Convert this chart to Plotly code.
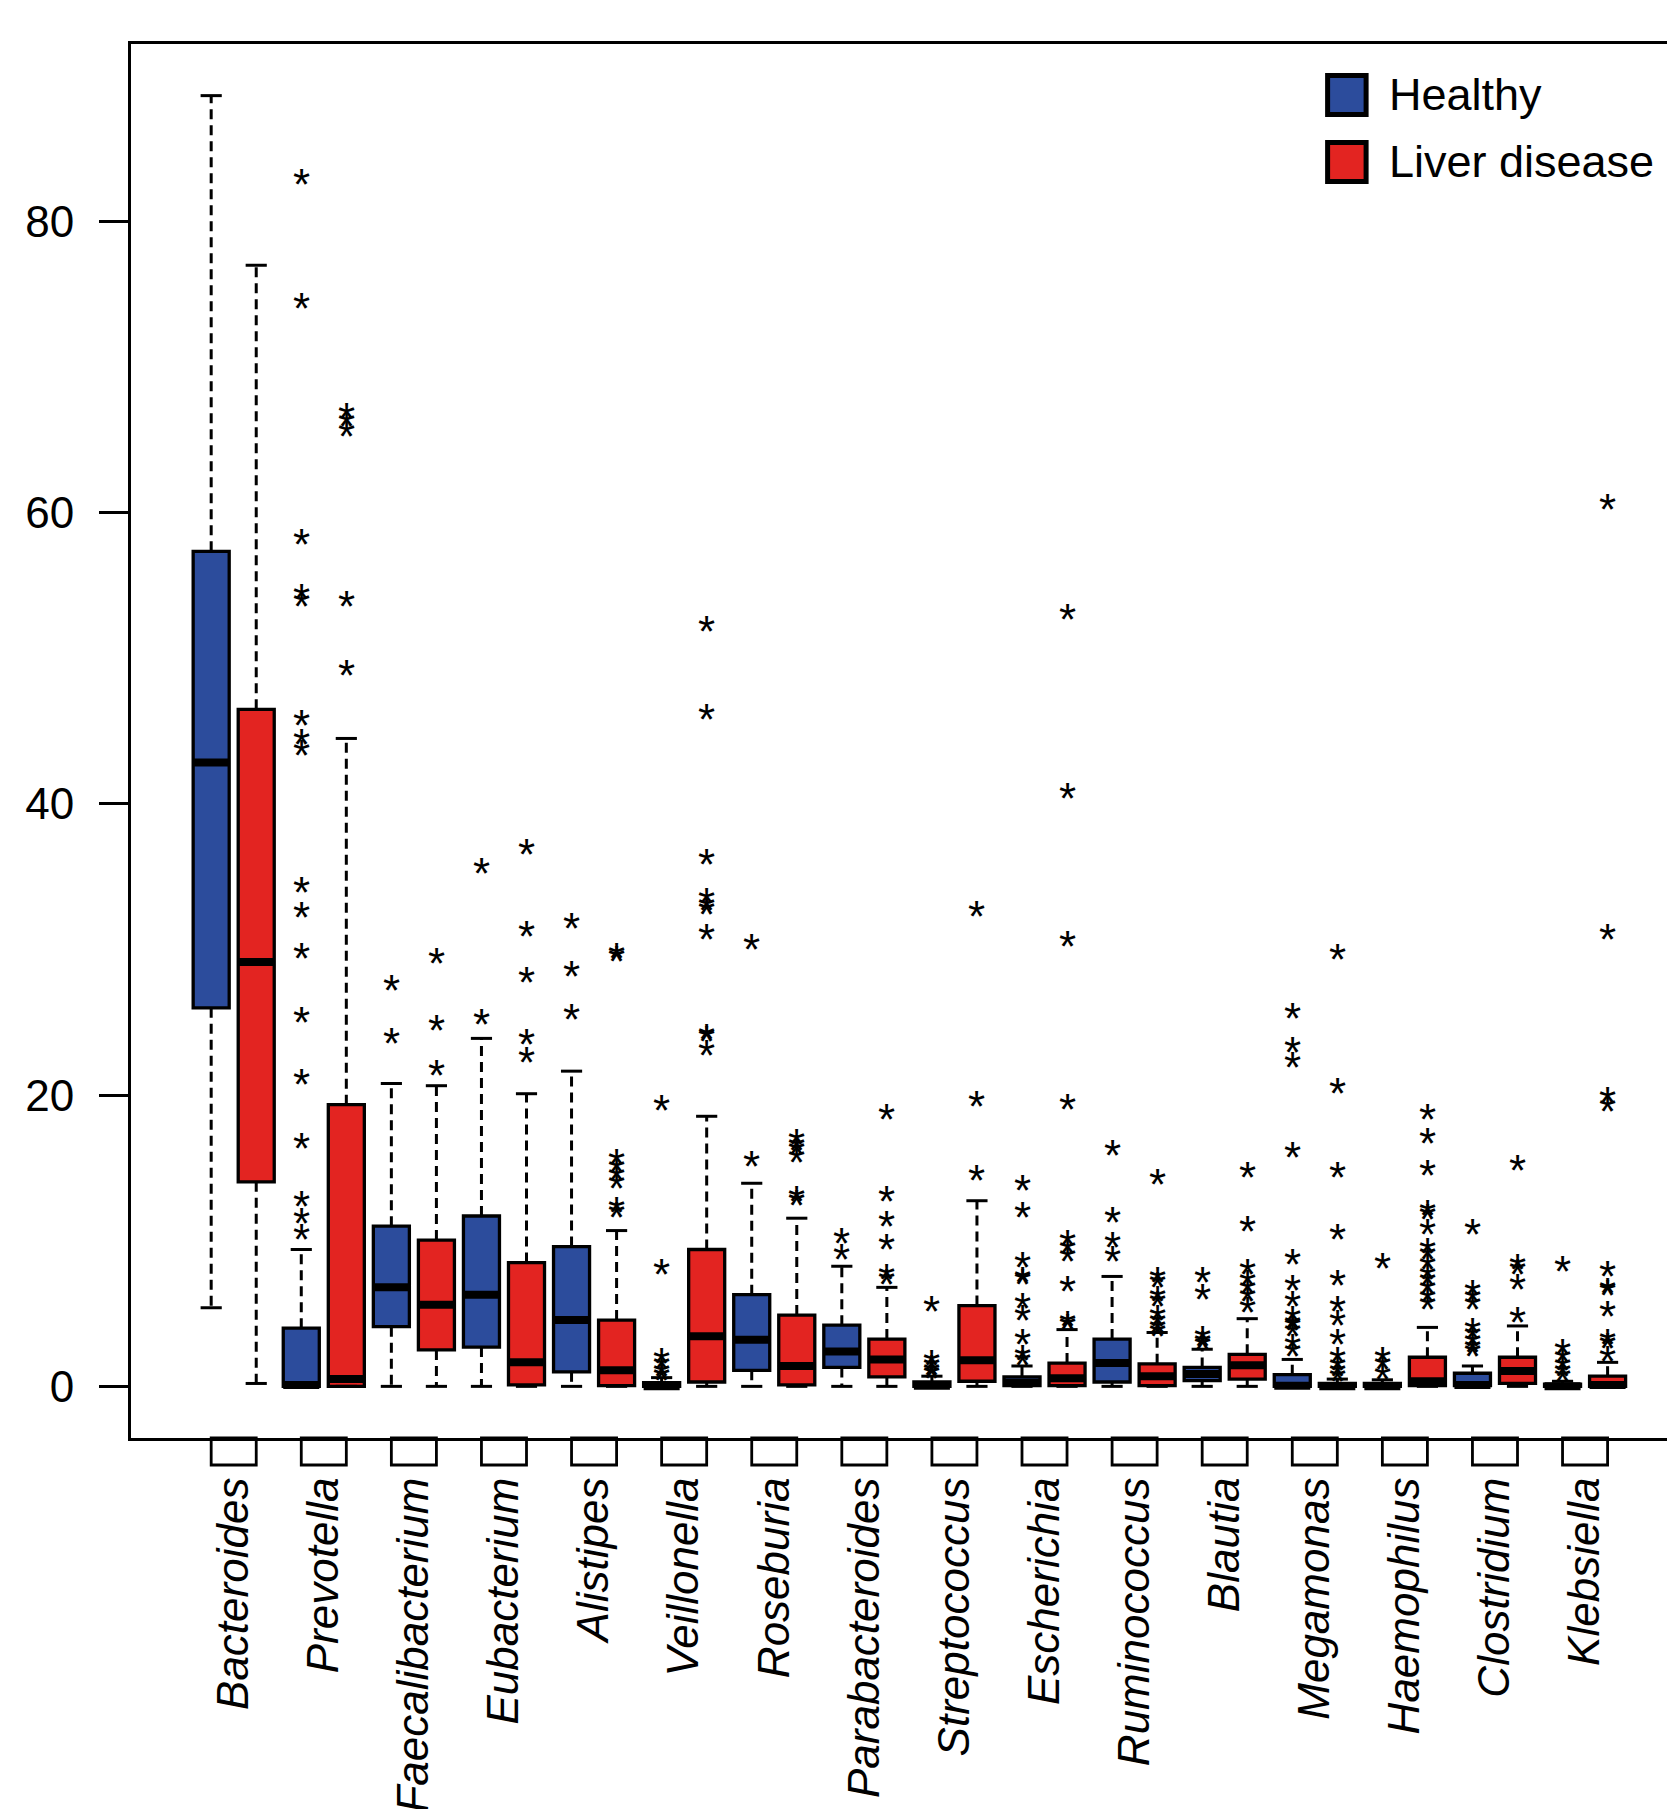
import plotly.graph_objects as go

# ---------------- data ----------------
genera = ["Bacteroides", "Prevotella", "Faecalibacterium", "Eubacterium", "Alistipes",
          "Veillonella", "Roseburia", "Parabacteroides", "Streptococcus", "Escherichia",
          "Ruminococcus", "Blautia", "Megamonas", "Haemophilus", "Clostridium", "Klebsiella"]

# Healthy: lower whisker, Q1, median, Q3, upper whisker
h_low = [5.4, 0, 0, 0, 0, 0, 0, 0, 0, 0, 0, 0, 0, 0, 0, 0]
h_q1 = [26.0, 0, 4.1, 2.7, 1.0, 0, 1.1, 1.3, 0, 0.05, 0.3, 0.4, 0, 0, 0.05, 0]
h_med = [42.85, 0.1, 6.8, 6.3, 4.55, 0, 3.2, 2.4, 0.05, 0.25, 1.6, 0.85, 0.05, 0, 0.1, 0]
h_q3 = [57.35, 4.0, 11.0, 11.7, 9.6, 0.25, 6.3, 4.2, 0.3, 0.65, 3.25, 1.3, 0.8, 0.2, 0.9, 0.15]
h_up = [88.65, 9.4, 20.8, 23.9, 21.65, 0.6, 13.95, 8.25, 0.7, 1.4, 7.55, 2.55, 1.85, 0.45, 1.4, 0.35]
h_out = [
    [],
    [82.95, 74.45, 58.2, 54.45, 53.95, 45.8, 44.5, 43.7, 34.3, 32.6, 29.75, 25.4, 21.1, 16.7, 12.75, 11.6, 10.45],
    [27.55, 23.95],
    [35.65, 25.25],
    [31.85, 28.55, 25.6],
    [19.35, 8.05, 1.95, 1.55, 1.1, 0.8],
    [30.4, 15.5],
    [10.2, 9.1],
    [5.55, 1.85, 1.5, 1.15, 0.9],
    [13.85, 12.0, 8.55, 7.5, 7.4, 5.75, 4.9, 3.25, 2.2, 1.85],
    [16.25, 11.65, 9.9, 8.95],
    [7.5, 6.35, 3.45, 3.1, 2.9],
    [25.65, 23.35, 22.3, 16.1, 8.75, 6.95, 5.9, 4.85, 4.4, 4.2, 3.8, 2.9, 2.45],
    [8.5, 2.0, 1.55, 0.85],
    [10.85, 6.6, 6.15, 5.7, 4.05, 3.6, 3.15, 2.75, 2.45],
    [8.3, 2.55, 2.0, 1.5, 1.1, 0.75],
]

# Liver disease
l_low = [0.2, 0, 0, 0, 0, 0, 0, 0, 0, 0, 0, 0, 0, 0, 0, 0]
l_q1 = [14.05, 0, 2.5, 0.1, 0.05, 0.3, 0.1, 0.65, 0.35, 0.05, 0.05, 0.5, 0, 0.05, 0.2, 0]
l_med = [29.15, 0.5, 5.6, 1.65, 1.1, 3.45, 1.4, 1.85, 1.8, 0.55, 0.7, 1.45, 0, 0.35, 1.05, 0.1]
l_q3 = [46.5, 19.35, 10.05, 8.5, 4.55, 9.4, 4.9, 3.25, 5.55, 1.6, 1.55, 2.2, 0.2, 2.0, 2.0, 0.7]
l_up = [77.0, 44.5, 20.65, 20.1, 10.7, 18.55, 11.55, 6.8, 12.75, 3.9, 3.7, 4.65, 0.5, 4.05, 4.15, 1.65]
l_out = [
    [],
    [66.9, 66.3, 65.6, 53.95, 49.2],
    [29.45, 24.85, 21.75],
    [36.95, 31.3, 28.15, 23.85, 22.65],
    [29.75, 29.6, 15.65, 15.05, 14.55, 14.0, 12.35, 12.0],
    [52.25, 46.2, 36.25, 33.55, 33.1, 32.8, 31.1, 24.25, 24.05, 23.1],
    [17.0, 16.6, 16.35, 15.75, 13.1, 12.8],
    [18.75, 13.1, 11.35, 9.8, 7.7, 7.4],
    [32.65, 19.6, 14.5],
    [53.05, 40.8, 30.6, 19.4, 10.1, 9.5, 8.95, 6.9, 4.5, 4.3],
    [14.25, 7.5, 7.15, 6.2, 5.9, 4.9, 4.5, 4.1, 3.85],
    [14.75, 11.05, 8.05, 7.35, 6.8, 6.2, 5.45],
    [29.7, 20.5, 14.75, 10.5, 7.35, 5.55, 4.6, 3.25, 2.0, 1.5, 1.1, 0.75],
    [18.75, 17.05, 14.85, 12.1, 11.85, 10.8, 9.55, 9.1, 8.45, 7.75, 7.3, 6.8, 6.15, 5.7],
    [15.2, 8.45, 8.1, 7.05, 4.75],
    [60.6, 31.1, 19.9, 19.3, 7.95, 6.8, 6.6, 5.2, 3.25, 3.0, 2.1],
]

y_ticks = [0, 20, 40, 60, 80]
group_names = ["Healthy", "Liver disease"]

# ---------------- style ----------------
BLUE = "#2C4C9C"
RED = "#E32421"
FONT = "Liberation Sans, Arial, Helvetica, sans-serif"
BOXW = 0.8
CAPW = 0.47
STAR_SIZE = 44
STAR_SHIFT = -0.13 * STAR_SIZE   # centre the '*' glyph on its value

OFF = 8  # page body margin
W, H = 1675 - OFF, 1809 - OFF
PLOT_L, PLOT_T, PLOT_B = 130.5, 44, 1438.5   # page pixel positions of the frame
ML = PLOT_L - OFF
MT = PLOT_T - OFF
MB = H - (PLOT_B - OFF)
PW = W - ML
PH = H - MT - MB
PX_PER_UNIT = 45.06
x_min = -0.78
x_max = x_min + PW / PX_PER_UNIT

h_pos = [2 * i + 1 for i in range(len(genera))]
l_pos = [2 * i + 2 for i in range(len(genera))]

fig = go.Figure()
annotations = []


def add_group(pos, low, q1, med, q3, up, out, color):
    wx, wy, cx, cy, mx, my = [], [], [], [], [], []
    for p, lo, a, m, b, hi, o in zip(pos, low, q1, med, q3, up, out):
        if hi > b:
            wx += [p, p, None]
            wy += [b, hi, None]
        if lo < a:
            wx += [p, p, None]
            wy += [a, lo, None]
        cx += [p - CAPW / 2, p + CAPW / 2, None, p - CAPW / 2, p + CAPW / 2, None]
        cy += [hi, hi, None, lo, lo, None]
        mx += [p - BOXW / 2, p + BOXW / 2, None]
        my += [m, m, None]
        for v in o:
            annotations.append(dict(x=p, y=v, xref="x", yref="y", text="*",
                                    showarrow=False, xanchor="center", yanchor="middle",
                                    yshift=STAR_SHIFT,
                                    font=dict(family=FONT, size=STAR_SIZE, color="black")))
    fig.add_trace(go.Scatter(x=wx, y=wy, mode="lines", showlegend=False, hoverinfo="skip",
                             line=dict(color="black", width=3, dash="10px,6px")))
    fig.add_trace(go.Scatter(x=cx, y=cy, mode="lines", showlegend=False, hoverinfo="skip",
                             line=dict(color="black", width=3)))
    fig.add_trace(go.Box(x=pos, q1=q1, median=med, q3=q3, lowerfence=q1, upperfence=q3,
                         orientation="v", width=BOXW, fillcolor=color, boxpoints=False,
                         whiskerwidth=0, line=dict(color="black", width=3.3),
                         showlegend=False, hoverinfo="skip"))
    fig.add_trace(go.Scatter(x=mx, y=my, mode="lines", showlegend=False, hoverinfo="skip",
                             line=dict(color="black", width=8)))


add_group(h_pos, h_low, h_q1, h_med, h_q3, h_up, h_out, BLUE)
add_group(l_pos, l_low, l_q1, l_med, l_q3, l_up, l_out, RED)

shapes = []
for a, b in zip(h_pos, l_pos):
    shapes.append(dict(type="rect", xref="x", yref="paper", x0=a, x1=b,
                       y0=-27 / PH, y1=0, line=dict(color="black", width=2.8),
                       fillcolor="rgba(0,0,0,0)", layer="above"))


def px_x(px):  # page pixel -> paper
    return (px - OFF - ML) / PW


def px_y(py):
    return (MT + PH - (py - OFF)) / PH


for (y0, y1, ytxt), col, name in zip([(75.5, 114.5, 95), (142.5, 181.5, 161.5)],
                                     [BLUE, RED], group_names):
    shapes.append(dict(type="rect", xref="paper", yref="paper",
                       x0=px_x(1327.5), x1=px_x(1366), y0=px_y(y1), y1=px_y(y0),
                       fillcolor=col, line=dict(color="black", width=5), layer="above"))
    annotations.append(dict(xref="paper", yref="paper", x=px_x(1387), y=px_y(ytxt),
                            xanchor="left", yanchor="middle", showarrow=False, text=name,
                            font=dict(family=FONT, size=45, color="black")))

fig.update_layout(
    width=W, height=H,
    margin=dict(l=ML, r=0, t=MT, b=MB, pad=0),
    paper_bgcolor="white", plot_bgcolor="white",
    boxmode="overlay",
    showlegend=False,
    shapes=shapes, annotations=annotations,
    font=dict(family=FONT, size=44, color="black"),
)
fig.update_xaxes(
    range=[x_min, x_max], automargin=False,
    showgrid=False, zeroline=False,
    showline=True, linecolor="black", linewidth=3, mirror=True,
    tickmode="array",
    tickvals=[(a + b) / 2 for a, b in zip(h_pos, l_pos)],
    ticktext=["<i>" + g + "</i>" for g in genera],
    ticks="", tickangle=-90, ticklabelstandoff=19,
    tickfont=dict(family=FONT, size=44, color="black"),
)
fig.update_yaxes(
    range=[-3.546, 92.196], automargin=False,
    showgrid=False, zeroline=False,
    showline=True, linecolor="black", linewidth=3,
    tickmode="array", tickvals=y_ticks, ticktext=[str(v) for v in y_ticks],
    ticks="outside", ticklen=29, tickwidth=2.8, tickcolor="black",
    ticklabelstandoff=16,
    tickfont=dict(family=FONT, size=44, color="black"),
)

fig.write_html("out.html")
